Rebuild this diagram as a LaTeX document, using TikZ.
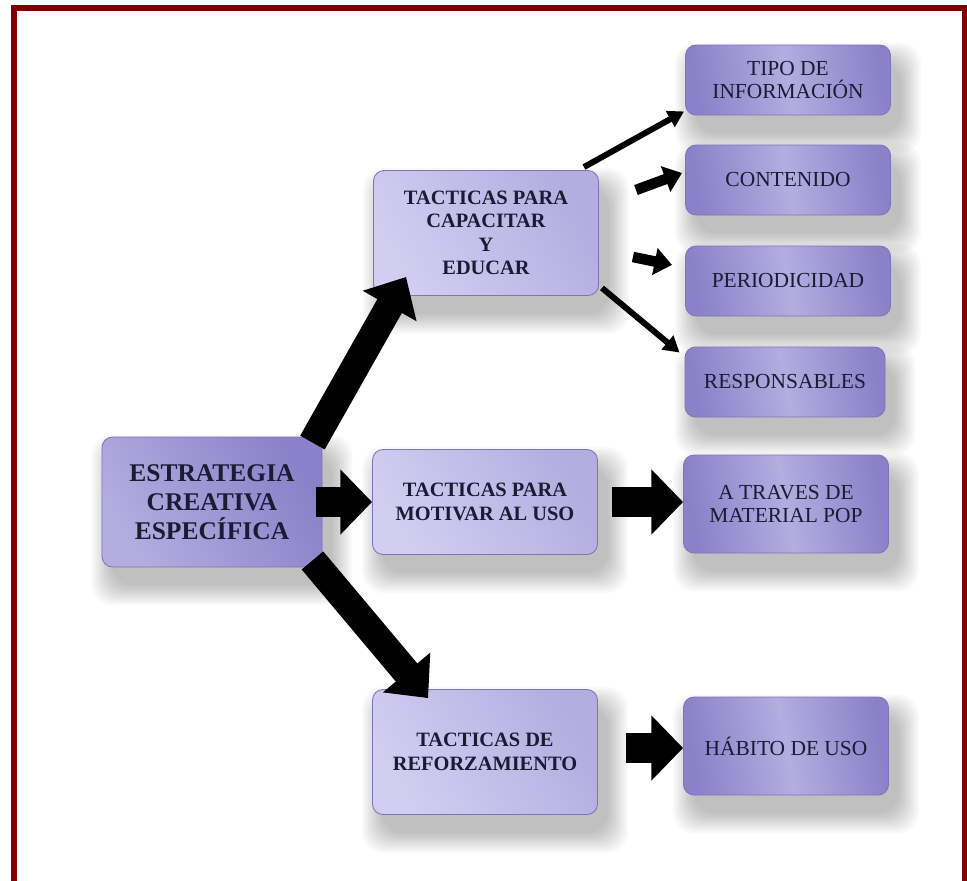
\documentclass[tikz,border=0pt]{standalone}
\usepackage{fontspec}
\setmainfont{Liberation Serif}
\usetikzlibrary{calc,arrows.meta,backgrounds}

\definecolor{framered}{HTML}{800000}
\definecolor{inkblue}{HTML}{1C1A35}
\definecolor{lilaclight}{HTML}{D2CEF1}
\definecolor{lilacmid}{HTML}{B3ADE0}
\definecolor{lilacdark}{HTML}{8A81C8}
\definecolor{lilacedge}{HTML}{7D75B8}

\tikzset{
  box/.style={rectangle,rounded corners=6pt,draw=lilacedge,line width=0.5pt,
    text=inkblue,align=center,inner sep=2pt},
  tactic/.style={box,minimum width=45mm,minimum height=25mm,
    left color=lilaclight,right color=lilacmid,shading angle=120,
    font=\fontsize{11.6}{13.3}\selectfont\bfseries},
  mainbox/.style={box,minimum width=44mm,minimum height=26mm,
    left color=lilacmid,right color=lilacdark,shading angle=120,
    font=\fontsize{14.5}{16.5}\selectfont\bfseries},
  leaf/.style={box,minimum width=41mm,minimum height=14mm,
    left color=lilacdark,right color=lilacdark,middle color=lilacmid,shading angle=100,
    font=\fontsize{12.2}{13.6}\selectfont},
  shadowstep/.style={fill=black,opacity=.024,rounded corners=12pt},
  fatarrow/.style={line width=16pt,-{Triangle[width=34pt,length=19pt]}},
  flatarrow/.style={line width=17pt,-{Triangle[width=36pt,length=18pt]}},
  midarrow/.style={line width=6pt,-{Triangle[width=15pt,length=10pt]}},
  thinarrow/.style={line width=3.4pt,-{Triangle[width=10pt,length=9pt]}}
}

\begin{document}
\begin{tikzpicture}[x=0.2mm,y=-0.2mm]
  \clip (0,0) rectangle (967,880);
  \draw[framered,line width=3.4pt] (14,8) rectangle (965,900);

  % root and the three groups of tactics
  \node[mainbox] (estr) at (212,502) {ESTRATEGIA\\CREATIVA\\ESPECÍFICA};
  \node[tactic] (capa) at (486,233) {TACTICAS PARA\\CAPACITAR\\Y\\EDUCAR};
  \node[tactic,minimum height=21mm] (moti) at (485,502) {TACTICAS PARA\\MOTIVAR AL USO};
  \node[tactic] (refo) at (485,752) {TACTICAS DE\\REFORZAMIENTO};

  % right hand column
  \node[leaf] (tipo) at (788,80) {TIPO DE\\INFORMACIÓN};
  \node[leaf] (cont) at (788,180) {CONTENIDO};
  \node[leaf] (peri) at (788,281) {PERIODICIDAD};
  \node[leaf,minimum width=40mm] (resp) at (785,382) {RESPONSABLES};
  \node[leaf,minimum height=19.6mm] (pop) at (786,504) {A TRAVES DE\\MATERIAL POP};
  \node[leaf,minimum height=19.6mm] (habi) at (786,746) {HÁBITO DE USO};

  % soft shadows, built up from stacked translucent boxes
  \begin{pgfonlayer}{background}
    \fill[white] (0,0) rectangle (967,880);
    \foreach \n in {estr,capa,moti,refo,tipo,cont,peri,resp,pop,habi}
      \foreach \e in {20,18,...,0}
        \fill[shadowstep] ($(\n.north west)+(10-\e,18-\e)$) rectangle ($(\n.south east)+(10+\e,18+\e)$);
  \end{pgfonlayer}

  % block arrows out of the root
  \draw[fatarrow] ($(estr.north east)+(-10,6)$) -- ($(capa.south west)+(33,-19)$);
  \draw[flatarrow] ($(estr.east)+(-6,0)$) -- (moti.west);
  \draw[fatarrow] ($(estr.south east)+(-10,-7)$) -- ($(refo.north west)+(56,9)$);

  \draw[flatarrow] ($(moti.east)+(14,0)$) -- (moti.east -| pop.west);
  \draw[flatarrow] ($(refo.east)+(28,-4)$) -- ($(refo.east -| habi.west)+(0,-4)$);

  % arrows fanning out to the leaves
  \draw[thinarrow] ($(capa.north east)+(-15,-3)$) -- ($(tipo.south west)+(-1,-4)$);
  \draw[midarrow] ($(capa.east)+(37,-43)$) -- ($(cont.west)+(-3,-7)$);
  \draw[midarrow] ($(capa.east)+(34,24)$) -- ($(peri.west)+(-13,-16)$);
  \draw[thinarrow] ($(capa.south east)+(3,-8)$) -- ($(resp.north west)+(-5,6)$);
\end{tikzpicture}
\end{document}
